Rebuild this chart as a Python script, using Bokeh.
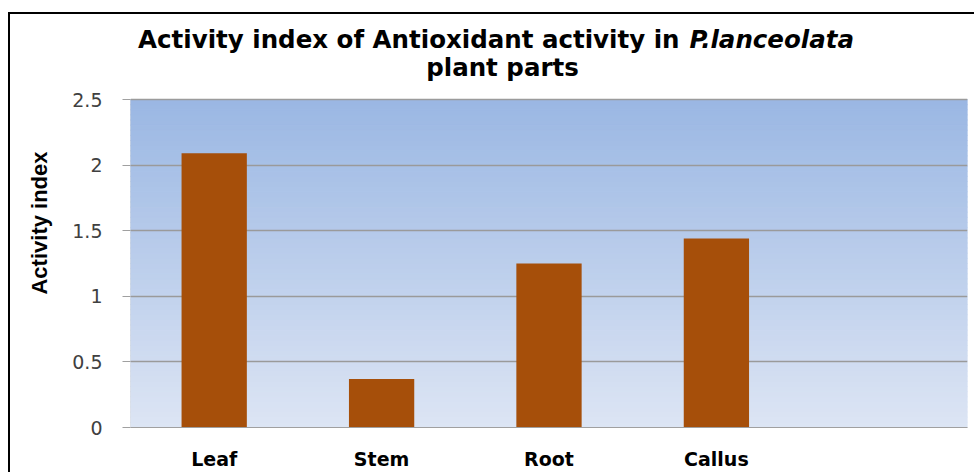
import numpy as np
from bokeh.plotting import figure
from bokeh.models import FactorRange, Range1d, FixedTicker, Label, BoxAnnotation
from bokeh.embed import file_html
from bokeh.resources import INLINE

# ---- data ----
categories = ["Leaf", "Stem", "Root", "Callus"]
activity_index = [2.09, 0.37, 1.25, 1.44]
empty_slot = [" "]
y_ticks = [0, 0.5, 1, 1.5, 2, 2.5]
y_tick_labels = ["0", "0.5", "1", "1.5", "2", "2.5"]
y_max = 2.5
title_main = "Activity index of Antioxidant activity in"
title_species = "P.lanceolata"
title_line2 = "plant parts"
y_title = "Activity index"

# ---- layout (page pixels) ----
W, H = 974, 472
F_LEFT, F_RIGHT = 130, 967      # frame edges
F_TOP, F_BOTTOM = 18, 427
AREA_TOP = 99                    # where y_max sits
y_top = y_max * (F_BOTTOM - F_TOP) / (F_BOTTOM - AREA_TOP)

def sx(px):
    return px - F_LEFT

def sy(py):
    return F_BOTTOM - py

p = figure(width=W, height=H,
           x_range=FactorRange(factors=categories + empty_slot, range_padding=0),
           y_range=Range1d(0, y_top),
           output_backend="svg", toolbar_location=None,
           min_border_left=F_LEFT, min_border_top=F_TOP,
           min_border_bottom=H - F_BOTTOM, min_border_right=W - F_RIGHT,
           border_fill_color=None, background_fill_color=None,
           outline_line_color=None,
           styles={
               "background-color": "white",
               "background-image": "linear-gradient(#000,#000), linear-gradient(#000,#000)",
               "background-position": "8px 12px, 8px 12px",
               "background-size": "2px 470px, 970px 2px",
               "background-repeat": "no-repeat",
           })

# gradient background of plot area
top_rgb = np.array([154, 183, 227])
bot_rgb = np.array([221, 229, 244])
n_bands = 64
edges = np.linspace(0, y_max, n_bands + 1)
for i in range(n_bands):
    t = (i + 0.5) / n_bands
    c = bot_rgb + (top_rgb - bot_rgb) * t
    col = "#%02x%02x%02x" % tuple(int(round(v)) for v in c)
    p.add_layout(BoxAnnotation(bottom=edges[i], top=edges[i + 1],
                               fill_color=col, fill_alpha=1.0,
                               line_color=col, line_alpha=1.0, line_width=1,
                               level="image"))

# plot-area outline (left edge acts as the y axis line)
p.add_layout(BoxAnnotation(left=0, right=len(categories) + 1.2, bottom=0, top=y_max,
                           fill_color=None, line_color="#A0A0A0", line_width=1,
                           level="underlay"))

# bars
p.vbar(x=categories, top=activity_index, width=0.39,
       fill_color="#A64F0A", line_color=None)

# grid
p.xgrid.grid_line_color = None
p.ygrid.ticker = FixedTicker(ticks=y_ticks)
p.ygrid.grid_line_color = "#9A9A9A"
p.ygrid.grid_line_width = 1.3

# y axis
p.yaxis.ticker = FixedTicker(ticks=y_ticks)
p.yaxis.major_label_overrides = {float(t): lab for t, lab in zip(y_ticks, y_tick_labels)}
p.yaxis.major_tick_out = 8
p.yaxis.major_tick_in = 0
p.yaxis.minor_tick_line_color = None
p.yaxis.axis_line_color = None
p.yaxis.major_tick_line_color = "#A0A0A0"
p.yaxis.major_label_standoff = 20
p.yaxis.major_label_text_font = "DejaVu Sans"
p.yaxis.major_label_text_font_size = "19px"
p.yaxis.major_label_text_color = "#404040"
p.yaxis.axis_label = y_title
p.yaxis.axis_label_text_font = "Liberation Sans"
p.yaxis.axis_label_text_font_style = "bold"
p.yaxis.axis_label_text_font_size = "22px"
p.yaxis.axis_label_text_color = "black"
p.yaxis.axis_label_standoff = 17

# x axis
p.xaxis.major_tick_out = 0
p.xaxis.major_tick_in = 0
p.xaxis.major_tick_line_color = None
p.xaxis.minor_tick_line_color = None
p.xaxis.axis_line_color = "#A0A0A0"
p.xaxis.major_label_standoff = 20
p.xaxis.major_label_text_font = "DejaVu Sans"
p.xaxis.major_label_text_font_style = "bold"
p.xaxis.major_label_text_font_size = "19px"
p.xaxis.major_label_text_color = "black"

# titles
TFS = "24.5px"
p.add_layout(Label(x=sx(679), y=sy(39), x_units="screen", y_units="screen",
                   text=title_main, text_font="DejaVu Sans", text_font_style="bold",
                   text_font_size=TFS, text_align="right",
                   text_baseline="alphabetic", text_color="black"))
p.add_layout(Label(x=sx(689), y=sy(39), x_units="screen", y_units="screen",
                   text=title_species, text_font="DejaVu Sans",
                   text_font_style="bold italic", text_font_size=TFS,
                   text_align="left", text_baseline="alphabetic",
                   text_color="black"))
p.add_layout(Label(x=sx(502), y=sy(67), x_units="screen", y_units="screen",
                   text=title_line2, text_font="DejaVu Sans", text_font_style="bold",
                   text_font_size=TFS, text_align="center",
                   text_baseline="alphabetic", text_color="black"))

open("out.html", "w").write(file_html(p, INLINE))
